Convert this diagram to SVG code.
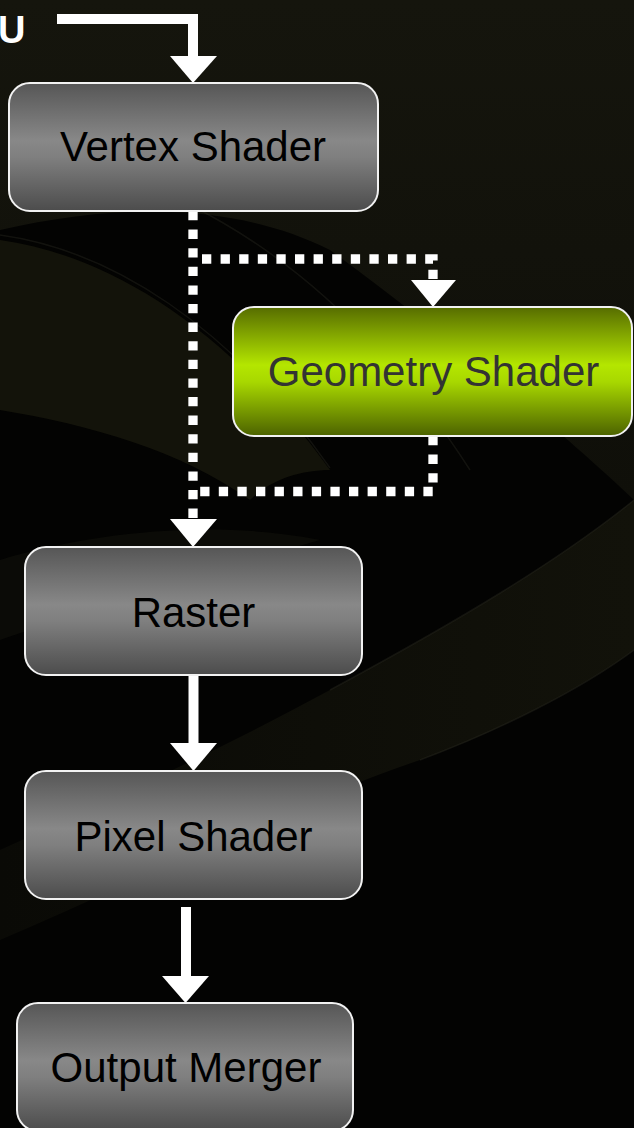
<svg xmlns="http://www.w3.org/2000/svg" width="634" height="1128" viewBox="0 0 634 1128">
  <defs>
    <linearGradient id="gray" x1="0" y1="0" x2="0" y2="1">
      <stop offset="0" stop-color="#565656"/>
      <stop offset="0.45" stop-color="#888888"/>
      <stop offset="0.58" stop-color="#7f7f7f"/>
      <stop offset="1" stop-color="#4c4c4c"/>
    </linearGradient>
    <linearGradient id="green" x1="0" y1="0" x2="0" y2="1">
      <stop offset="0" stop-color="#566c00"/>
      <stop offset="0.45" stop-color="#b4e600"/>
      <stop offset="0.58" stop-color="#a8d800"/>
      <stop offset="1" stop-color="#4c6200"/>
    </linearGradient>
    <linearGradient id="topfade" x1="0" y1="0" x2="0" y2="1">
      <stop offset="0" stop-color="#15150d"/>
      <stop offset="1" stop-color="#0f0f09"/>
    </linearGradient>
    <linearGradient id="bandR" x1="1" y1="0" x2="0" y2="0">
      <stop offset="0" stop-color="#12120a"/>
      <stop offset="1" stop-color="#0a0a06"/>
    </linearGradient>
    <style>
      .node rect { stroke: #f2f2f2; stroke-width: 2; }
      .gray { fill: url(#gray); }
      .green { fill: url(#green); }
      .label { font-family: "Liberation Sans", Arial, sans-serif; font-size: 42px; text-anchor: middle; fill: #000; }
      .glabel { fill: #333333; }
      .solid { fill: none; stroke: #ffffff; stroke-width: 10; stroke-linejoin: miter; }
      .dotted { fill: none; stroke: #ffffff; stroke-width: 9.3; stroke-dasharray: 9.3 9.3; stroke-linejoin: miter; }
      .head { fill: #ffffff; }
      .swoosh { fill: none; stroke: #34342c; stroke-width: 1.5; opacity: 0.3; }
    </style>
  </defs>

  <!-- background -->
  <g id="background">
    <rect x="0" y="0" width="634" height="1128" fill="#030302"/>
    <path d="M0 0 H634 V500 C560 430 440 330 330 250 C230 200 110 205 0 230 Z" fill="url(#topfade)"/>
    <path d="M0 240 C110 255 230 330 330 470 C300 470 270 480 250 500 C180 450 90 425 0 410 Z" fill="#13130a"/>
    <path d="M0 560 C100 530 220 520 320 540 C250 560 120 600 0 640 Z" fill="#0b0b07"/>
    <path d="M634 500 C560 560 460 620 330 690 C220 750 110 800 0 850 L0 940 C140 880 300 800 420 760 C500 730 580 690 634 650 Z" fill="url(#bandR)"/>
    <path class="swoosh" d="M0 235 C110 250 230 325 330 468"/>
    <path class="swoosh" d="M190 205 C280 250 380 330 470 470"/>
    <path class="swoosh" d="M634 500 C560 560 460 620 330 690"/>
    <path class="swoosh" d="M634 650 C580 690 500 730 420 760"/>
  </g>

  <!-- source label -->
  <text x="-2" y="43" font-family="'Liberation Sans', Arial, sans-serif" font-size="38" font-weight="bold" fill="#ffffff">U</text>

  <!-- connectors -->
  <g id="connectors">
    <!-- input arrow -->
    <path class="solid" d="M57 19 H193 V57"/>
    <polygon class="head" points="170,56 217,56 193,83"/>

    <!-- vertex -> raster (dotted) -->
    <path class="dotted" d="M193 211 V518"/>
    <polygon class="head" points="170,519 217,519 193,547"/>

    <!-- branch to geometry shader -->
    <path class="dotted" d="M202 259 H433 V280"/>
    <polygon class="head" points="411,280 456,280 433,307"/>

    <!-- return from geometry shader -->
    <path class="dotted" d="M433 436 V491.5 H200"/>

    <!-- raster -> pixel -->
    <path class="solid" d="M193.5 675 V744"/>
    <polygon class="head" points="170,743 217,743 193.5,771"/>

    <!-- pixel -> output -->
    <path class="solid" d="M186 907 V977"/>
    <polygon class="head" points="162,976 209,976 185.5,1003"/>
  </g>

  <!-- nodes -->
  <g id="vertex-shader" class="node">
    <rect class="gray" x="9" y="83" width="369" height="128" rx="21" ry="21"/>
    <text class="label" x="193" y="161">Vertex Shader</text>
  </g>

  <g id="geometry-shader" class="node">
    <rect class="green" x="233" y="307" width="399" height="129" rx="21" ry="21"/>
    <text class="label glabel" x="433.5" y="386">Geometry Shader</text>
  </g>

  <g id="raster" class="node">
    <rect class="gray" x="25" y="547" width="337" height="128" rx="21" ry="21"/>
    <text class="label" x="193.5" y="627">Raster</text>
  </g>

  <g id="pixel-shader" class="node">
    <rect class="gray" x="25" y="771" width="337" height="128" rx="21" ry="21"/>
    <text class="label" x="193.5" y="851">Pixel Shader</text>
  </g>

  <g id="output-merger" class="node">
    <rect class="gray" x="17" y="1003" width="336" height="128" rx="21" ry="21"/>
    <text class="label" x="186" y="1082">Output Merger</text>
  </g>
</svg>
